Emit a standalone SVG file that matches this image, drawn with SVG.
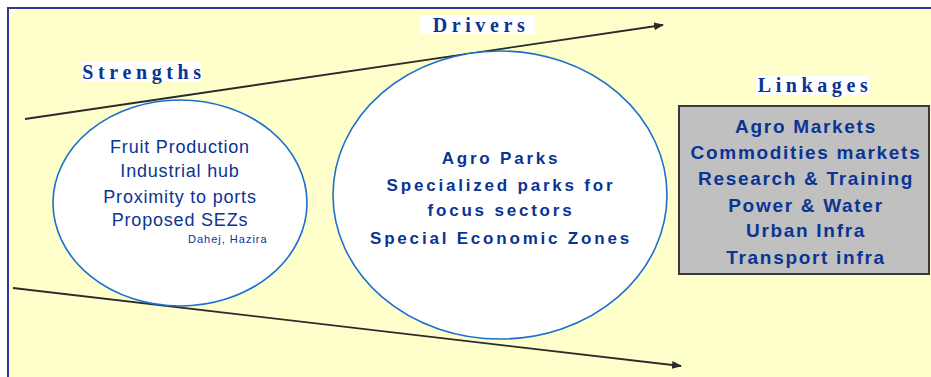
<svg xmlns="http://www.w3.org/2000/svg" width="931" height="377" viewBox="0 0 931 377">
<defs>
<style>
.lbl{font-family:"Liberation Serif","Times New Roman",serif;font-weight:bold;font-size:20px;letter-spacing:4.6px;fill:#0a3494;text-anchor:middle}
.st{font-family:"Liberation Sans",Arial,sans-serif;font-size:18px;letter-spacing:0.8px;fill:#0a3494;text-anchor:middle}
.dr{font-family:"Liberation Sans",Arial,sans-serif;font-weight:bold;font-size:17px;letter-spacing:2.8px;fill:#0a3494;text-anchor:middle}
.lk{font-family:"Liberation Sans",Arial,sans-serif;font-weight:bold;font-size:19px;letter-spacing:1.7px;fill:#0a3494;text-anchor:middle}
.ell{fill:#ffffff;stroke:#1a6fd0;stroke-width:1.6}
.conn{stroke:#2b2b2b;stroke-width:1.8;fill:none;marker-end:url(#ah)}
</style>
<marker id="ah" markerWidth="10" markerHeight="8" refX="9" refY="4" orient="auto" markerUnits="userSpaceOnUse">
<path d="M0,0 L10,4 L0,8 z" fill="#2b2b2b"/>
</marker>
</defs>
<rect x="0" y="0" width="931" height="377" fill="#ffffff"/>
<rect x="8" y="8" width="940" height="380" fill="#ffffcc" stroke="#35359a" stroke-width="2"/>

<g id="connectors">
<line class="conn" x1="25" y1="119" x2="663" y2="25"/>
<line class="conn" x1="13" y1="288" x2="681" y2="366"/>
</g>

<g id="strengths-label">
<rect x="82" y="62" width="120" height="19" fill="#ffffff"/>
<text class="lbl" x="144" y="79">Strengths</text>
</g>

<g id="drivers-label">
<rect x="420" y="15" width="115" height="19" fill="#ffffff"/>
<text class="lbl" x="481" y="32">Drivers</text>
</g>

<g id="linkages-label">
<rect x="756" y="76" width="113" height="19" fill="#ffffff"/>
<text class="lbl" x="815" y="92">Linkages</text>
</g>

<g id="strengths">
<ellipse class="ell" cx="180" cy="203" rx="127" ry="103"/>
<text class="st" x="180" y="153">Fruit Production</text>
<text class="st" x="180" y="177">Industrial hub</text>
<text class="st" x="180" y="203">Proximity to ports</text>
<text class="st" x="180" y="226">Proposed SEZs</text>
<text x="188" y="243" font-family="Liberation Sans, Arial, sans-serif" font-size="11" letter-spacing="1" fill="#0a3494">Dahej, Hazira</text>
</g>

<g id="drivers">
<ellipse class="ell" cx="500" cy="195" rx="167" ry="144"/>
<text class="dr" x="501" y="164">Agro Parks</text>
<text class="dr" x="501" y="191">Specialized parks for</text>
<text class="dr" x="501" y="216">focus sectors</text>
<text class="dr" x="501" y="244">Special Economic Zones</text>
</g>

<g id="linkages">
<rect x="679" y="106" width="250" height="168" fill="#c0c0c0" stroke="#3a3a3a" stroke-width="2"/>
<text class="lk" x="806" y="133">Agro Markets</text>
<text class="lk" x="806" y="159">Commodities markets</text>
<text class="lk" x="806" y="185">Research &amp; Training</text>
<text class="lk" x="806" y="212">Power &amp; Water</text>
<text class="lk" x="806" y="237">Urban Infra</text>
<text class="lk" x="806" y="264">Transport infra</text>
</g>
</svg>
